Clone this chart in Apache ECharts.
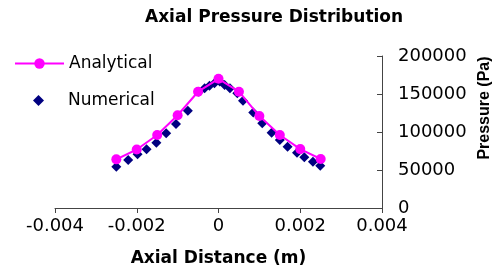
<!DOCTYPE html>
<html>
<head>
<meta charset="utf-8">
<script src="https://cdn.jsdelivr.net/npm/echarts@6/dist/echarts.min.js"></script>
<style>html,body{margin:0;padding:0;background:#fff}#c{width:499px;height:276px}</style>
</head>
<body>
<div id="c"></div>
<script>
const analyticalX = [-0.0025, -0.002, -0.0015, -0.001, -0.0005, 0, 0.0005, 0.001, 0.0015, 0.002, 0.0025];
const analyticalY = [64000, 77000, 96000, 122000, 153000, 170000, 153000, 121000, 96000, 77500, 64500];
const numericalX = [-0.0025, -0.00221, -0.00198, -0.00176, -0.00152, -0.00128, -0.00104, -0.00075, -0.00048, -0.00034, -0.00022, -0.0001, 0.00003, 0.00015, 0.00028, 0.00046, 0.0006, 0.00085, 0.00107, 0.0013, 0.0015, 0.00169, 0.00192, 0.0021, 0.00231, 0.00249];
const numericalY = [54300, 63200, 70700, 77200, 86000, 98300, 110500, 128000, 153000, 157500, 161000, 164000, 166500, 162000, 157500, 151000, 141000, 125500, 111500, 99000, 89500, 80700, 72800, 66700, 61000, 55700];
const xTicks = [-0.004, -0.002, 0, 0.002, 0.004];
const yTicks = [0, 50000, 100000, 150000, 200000];

const chart = echarts.init(document.getElementById('c'), null, {renderer: 'canvas'});
const FONT = 'DejaVu Sans';
chart.setOption({
  animation: false,
  backgroundColor: '#fff',
  title: {
    text: 'Axial Pressure Distribution',
    left: 145, top: 9, padding: 0,
    textStyle: {fontFamily: FONT, fontWeight: 'bold', fontSize: 17, color: '#000'}
  },
  legend: [
    {
      data: ['Analytical'], orient: 'vertical', left: 14, top: 55, padding: 0,
      itemWidth: 49, itemHeight: 13, itemGap: 5,
      textStyle: {fontFamily: FONT, fontSize: 17, color: '#000'}
    },
    {
      data: [{name: 'Numerical', icon: 'diamond'}], orient: 'vertical', left: 33, top: 92, padding: 0,
      itemWidth: 11, itemHeight: 11, itemGap: 5,
      textStyle: {fontFamily: FONT, fontSize: 17, color: '#000', padding: [0, 0, 0, 19]}
    }
  ],
  grid: {left: 55, right: 117, top: 56, bottom: 68, containLabel: false},
  xAxis: {
    type: 'value', min: xTicks[0], max: xTicks[xTicks.length - 1], interval: 0.002,
    name: 'Axial Distance (m)', nameLocation: 'middle', nameGap: 42,
    nameTextStyle: {fontFamily: FONT, fontWeight: 'bold', fontSize: 17, color: '#000'},
    axisLine: {onZero: false, lineStyle: {color: '#444', width: 1}},
    axisTick: {show: true, inside: false, length: 5, lineStyle: {color: '#444'}},
    axisLabel: {fontFamily: FONT, fontSize: 18, color: '#000', margin: 9,
      formatter: v => String(Math.round(v * 1000) / 1000)},
    splitLine: {show: false}
  },
  yAxis: {
    type: 'value', position: 'right', min: yTicks[0], max: yTicks[yTicks.length - 1], interval: 50000,
    axisLine: {show: true, onZero: false, lineStyle: {color: '#444', width: 1}},
    axisTick: {show: true, inside: true, length: 5, lineStyle: {color: '#444'}},
    axisLabel: {fontFamily: FONT, fontSize: 18, color: '#000', margin: 16, formatter: v => String(v)},
    splitLine: {show: false}
  },
  graphic: [{
    type: 'text', x: 485, y: 108, rotation: Math.PI / 2,
    style: {text: 'Pressure (Pa)', fontFamily: 'Liberation Sans', fontWeight: 'bold', fontSize: 16,
      fill: '#000', align: 'center', verticalAlign: 'middle'}
  }],
  series: [
    {
      name: 'Analytical', type: 'line',
      data: analyticalX.map((x, i) => [x, analyticalY[i]]),
      symbol: 'circle', symbolSize: 10, showAllSymbol: true,
      itemStyle: {color: '#FF00FF', opacity: 1}, lineStyle: {color: '#FF00FF', width: 2}
    },
    {
      name: 'Numerical', type: 'scatter',
      data: numericalX.map((x, i) => [x, numericalY[i]]),
      symbol: 'diamond', symbolSize: 10,
      itemStyle: {color: '#000080', opacity: 1}
    }
  ]
});
</script>
</body>
</html>
